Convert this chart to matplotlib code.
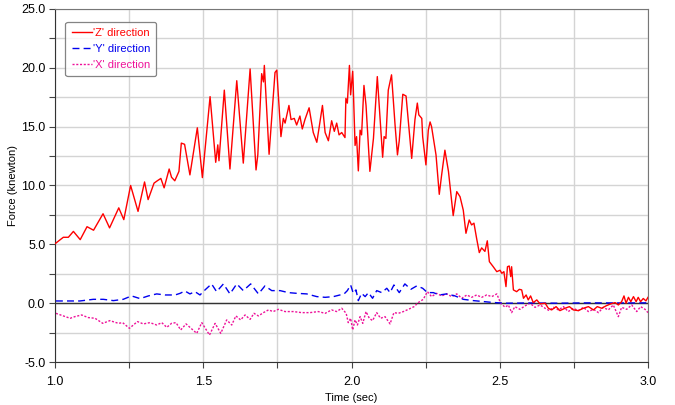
import matplotlib
matplotlib.use("Agg")
import matplotlib.pyplot as plt
from matplotlib.ticker import MultipleLocator, FormatStrFormatter

plt.rcParams['font.family'] = ['Liberation Sans', 'DejaVu Sans']

# ---- Data ----
z_t = [1.000, 1.028, 1.045, 1.062, 1.085, 1.108, 1.130, 1.162, 1.184, 1.215, 1.232, 1.255,
       1.280, 1.302, 1.314, 1.334, 1.345, 1.357, 1.368, 1.385, 1.393, 1.404, 1.418, 1.426,
       1.437, 1.455, 1.480, 1.497, 1.523, 1.542, 1.549, 1.553, 1.571, 1.590, 1.613, 1.635,
       1.658, 1.678, 1.684, 1.697, 1.703, 1.706, 1.722, 1.742, 1.748, 1.762, 1.770, 1.776,
       1.789, 1.796, 1.807, 1.815, 1.826, 1.834, 1.843, 1.857, 1.871, 1.883, 1.890, 1.902,
       1.911, 1.922, 1.933, 1.942, 1.950, 1.958, 1.967, 1.978, 1.981, 1.986, 1.993, 1.997,
       2.004, 2.006, 2.012, 2.017, 2.023, 2.029, 2.034, 2.042, 2.049, 2.062, 2.074, 2.087,
       2.105, 2.110, 2.116, 2.124, 2.135, 2.147, 2.155, 2.161, 2.173, 2.184, 2.197, 2.203,
       2.214, 2.222, 2.227, 2.237, 2.240, 2.251, 2.259, 2.265, 2.270, 2.278, 2.285, 2.296,
       2.304, 2.315, 2.327, 2.343, 2.355, 2.366, 2.377, 2.386, 2.397, 2.405, 2.413, 2.422,
       2.431, 2.439, 2.450, 2.458, 2.465, 2.478, 2.490, 2.501, 2.507, 2.514, 2.521, 2.526,
       2.532, 2.537, 2.540, 2.546, 2.557, 2.566, 2.574, 2.580, 2.589, 2.596, 2.604, 2.613,
       2.625, 2.636, 2.653, 2.664, 2.675, 2.690, 2.703, 2.720, 2.735, 2.748, 2.765, 2.782,
       2.799, 2.816, 2.829, 2.844, 2.858, 2.874, 2.889, 2.900, 2.911, 2.919, 2.926, 2.934,
       2.942, 2.951, 2.960, 2.967, 2.975, 2.984, 2.993, 3.000]
z_f = [5.05, 5.6, 5.6, 6.1, 5.4, 6.5, 6.2, 7.6, 6.4, 8.1, 7.1, 10.0,
       7.8, 10.3, 8.8, 10.2, 10.4, 10.6, 9.8, 11.4, 10.7, 10.4, 11.2, 13.6,
       13.5, 10.9, 14.9, 10.67, 17.55, 11.97, 13.45, 12.1, 18.1, 11.4, 18.9, 11.9,
       19.9, 11.32, 12.6, 19.5, 18.8, 20.2, 12.65, 19.6, 19.8, 14.15, 15.7, 15.3,
       16.8, 15.6, 15.7, 15.14, 15.9, 14.8, 15.6, 16.6, 14.5, 13.67, 14.8, 16.8,
       14.5, 13.8, 15.5, 14.6, 15.3, 14.3, 14.5, 14.07, 17.4, 17.0, 20.2, 17.7,
       19.7, 18.3, 13.4, 14.15, 11.24, 14.7, 14.3, 18.5, 16.8, 11.2, 14.0, 19.25,
       12.4, 14.15, 14.0, 18.1, 19.4, 15.1, 12.6, 13.8, 17.75, 17.6, 14.0, 12.3,
       15.6, 17.0, 16.0, 15.7, 14.15, 11.75, 14.7, 15.4, 15.0, 13.7, 12.6, 9.25,
       10.9, 13.0, 11.2, 7.44, 9.48, 9.05, 7.9, 5.94, 7.07, 6.65, 6.8, 5.5,
       4.3, 4.7, 4.4, 5.3, 3.53, 3.1, 2.68, 2.8, 2.54, 2.68, 1.41, 3.1,
       3.16, 2.26, 3.1, 1.13, 0.98, 1.18, 1.13, 0.42, 0.7, 0.28, 0.62, 0.05,
       0.28, -0.06, 0.0, -0.43, -0.57, -0.29, -0.63, -0.43, -0.29, -0.57, -0.63, -0.43,
       -0.29, -0.57, -0.29, -0.43, -0.23, -0.06, 0.05, -0.15, 0.13, 0.62, 0.0, 0.5,
       0.13, 0.56, 0.13, 0.5, 0.13, 0.4, 0.2, 0.5]

y_t = [1.003, 1.039, 1.084, 1.129, 1.163, 1.197, 1.230, 1.258, 1.287, 1.315, 1.343, 1.371,
       1.405, 1.422, 1.438, 1.455, 1.472, 1.489, 1.506, 1.528, 1.545, 1.568, 1.590, 1.613,
       1.635, 1.660, 1.686, 1.708, 1.731, 1.759, 1.787, 1.815, 1.849, 1.883, 1.911, 1.939,
       1.961, 1.975, 1.986, 1.997, 2.006, 2.015, 2.023, 2.034, 2.046, 2.057, 2.071, 2.085,
       2.102, 2.119, 2.130, 2.143, 2.161, 2.180, 2.200, 2.220, 2.240, 2.256, 2.276, 2.296,
       2.321, 2.349, 2.377, 2.411, 2.445, 2.478, 2.523, 2.600, 2.700, 2.800, 2.900, 3.000]
y_f = [0.19, 0.19, 0.19, 0.33, 0.33, 0.22, 0.33, 0.62, 0.39, 0.62, 0.79, 0.70,
       0.70, 0.84, 1.04, 0.79, 0.98, 0.70, 1.13, 1.64, 0.98, 1.64, 0.79, 1.64,
       1.07, 1.64, 0.79, 1.47, 1.07, 1.07, 0.90, 0.84, 0.79, 0.56, 0.50, 0.56,
       0.70, 0.79, 1.07, 1.55, 0.84, 1.13, 0.22, 0.84, 0.56, 0.90, 0.42, 1.07,
       0.90, 1.27, 0.90, 1.55, 0.90, 1.64, 1.18, 1.47, 1.27, 0.90, 0.90, 0.70,
       0.79, 0.62, 0.33, 0.22, 0.14, 0.06, 0.0, 0.02, 0.0, 0.03, 0.02, 0.03]

x_t = [1.003, 1.028, 1.051, 1.067, 1.090, 1.112, 1.135, 1.161, 1.185, 1.214, 1.228, 1.251,
       1.278, 1.298, 1.320, 1.343, 1.360, 1.377, 1.393, 1.408, 1.424, 1.442, 1.455, 1.478,
       1.495, 1.521, 1.540, 1.559, 1.579, 1.596, 1.610, 1.626, 1.641, 1.658, 1.671, 1.686,
       1.703, 1.720, 1.736, 1.753, 1.776, 1.804, 1.832, 1.860, 1.888, 1.911, 1.933, 1.950,
       1.967, 1.982, 1.989, 1.997, 2.004, 2.012, 2.020, 2.029, 2.038, 2.049, 2.060, 2.071,
       2.085, 2.098, 2.113, 2.130, 2.143, 2.158, 2.175, 2.192, 2.211, 2.225, 2.242, 2.256,
       2.270, 2.287, 2.304, 2.321, 2.338, 2.355, 2.372, 2.389, 2.405, 2.422, 2.439, 2.456,
       2.473, 2.490, 2.503, 2.518, 2.529, 2.540, 2.551, 2.568, 2.585, 2.602, 2.619, 2.636,
       2.653, 2.667, 2.681, 2.698, 2.715, 2.731, 2.748, 2.765, 2.782, 2.799, 2.816, 2.833,
       2.849, 2.866, 2.883, 2.900, 2.911, 2.928, 2.945, 2.962, 2.975, 2.990, 3.000]
x_f = [-0.86, -1.08, -1.28, -1.14, -1.0, -1.22, -1.28, -1.71, -1.48, -1.71, -1.65, -2.13,
       -1.56, -1.76, -1.65, -1.85, -1.65, -2.05, -1.71, -1.65, -2.27, -1.76, -2.05, -2.56,
       -1.65, -2.7, -1.71, -2.56, -1.42, -1.85, -1.08, -1.42, -1.0, -1.37, -0.86, -1.08,
       -0.8, -0.57, -0.71, -0.52, -0.71, -0.71, -0.8, -0.8, -0.71, -0.86, -0.57, -0.71,
       -0.43, -0.86, -1.65, -1.28, -2.27, -1.42, -1.85, -1.14, -1.71, -0.71, -1.28, -1.48,
       -0.8, -1.28, -1.14, -1.76, -0.8, -0.86, -0.71, -0.52, -0.29, 0.05, 0.33, 0.98,
       0.56, 0.84, 0.62, 0.79, 0.56, 0.79, 0.42, 0.7, 0.5, 0.7, 0.5, 0.7,
       0.56, 0.79, 0.0, -0.34, -0.15, -0.8, -0.29, -0.52, -0.23, 0.0, -0.35, -0.15,
       -0.43, -0.63, -0.35, -0.57, -0.29, -0.71, -0.43, -0.63, -0.35, -0.71, -0.52, -0.8,
       -0.35, -0.57, -0.15, -1.14, -0.35, -0.52, -0.15, -0.71, -0.29, -0.52, -0.8]

x_ticks = [1.0, 1.5, 2.0, 2.5, 3.0]
y_ticks = [-5.0, 0.0, 5.0, 10.0, 15.0, 20.0, 25.0]
labels = ["'Z' direction", "'Y' direction", "'X' direction"]
colors = ['#ff0000', '#0000ee', '#ee1199']

# ---- Figure ----
fig = plt.figure(figsize=(6.75, 4.05), dpi=100)
ax = fig.add_axes([0.0815, 0.106, 0.8785, 0.872])

ax.axhline(0, color='#333333', lw=1.0, zorder=1)
lz, = ax.plot(z_t, z_f, color=colors[0], lw=1.0, label=labels[0], zorder=4)
ly, = ax.plot(y_t, y_f, color=colors[1], lw=1.0, ls=(0, (5, 3)), label=labels[1], zorder=3)
lx, = ax.plot(x_t, x_f, color=colors[2], lw=1.0, ls=(0, (1.5, 1.2)), label=labels[2], zorder=2)

ax.set_xlim(1.0, 3.0)
ax.set_ylim(-5.0, 25.0)
ax.set_xticks(x_ticks)
ax.set_yticks(y_ticks)
ax.xaxis.set_minor_locator(MultipleLocator(0.25))
ax.yaxis.set_minor_locator(MultipleLocator(2.5))
ax.xaxis.set_major_formatter(FormatStrFormatter('%.1f'))
ax.yaxis.set_major_formatter(FormatStrFormatter('%.1f'))
ax.grid(True, which='both', color='#d4d4d4', lw=1.0, zorder=0)
ax.set_axisbelow(True)
ax.tick_params(which='both', direction='out', length=4, width=0.8, color='#444444',
               labelsize=9, pad=3)
ax.tick_params(axis='x', which='major', pad=6)
ax.tick_params(which='minor', length=4)

for s in ['top', 'right']:
    ax.spines[s].set_color('#777777')
for s in ['left', 'bottom']:
    ax.spines[s].set_color('#333333')

ax.set_xlabel('Time (sec)', fontsize=8)
ax.xaxis.set_label_coords(0.5, -0.088)
ax.set_ylabel('Force (knewton)', fontsize=8)
ax.yaxis.set_label_coords(-0.062, 0.5)

leg = ax.legend(handles=[lz, ly, lx], loc='upper left', bbox_to_anchor=(0.012, 0.973),
                fontsize=8, frameon=True, fancybox=True, handlelength=1.8,
                handletextpad=0.1, borderpad=0.55, labelspacing=0.55, borderaxespad=0.3)
leg.get_frame().set_edgecolor('#666666')
leg.get_frame().set_linewidth(0.9)
for txt, c in zip(leg.get_texts(), colors):
    txt.set_color(c)

fig.savefig('out.png', dpi=100)
